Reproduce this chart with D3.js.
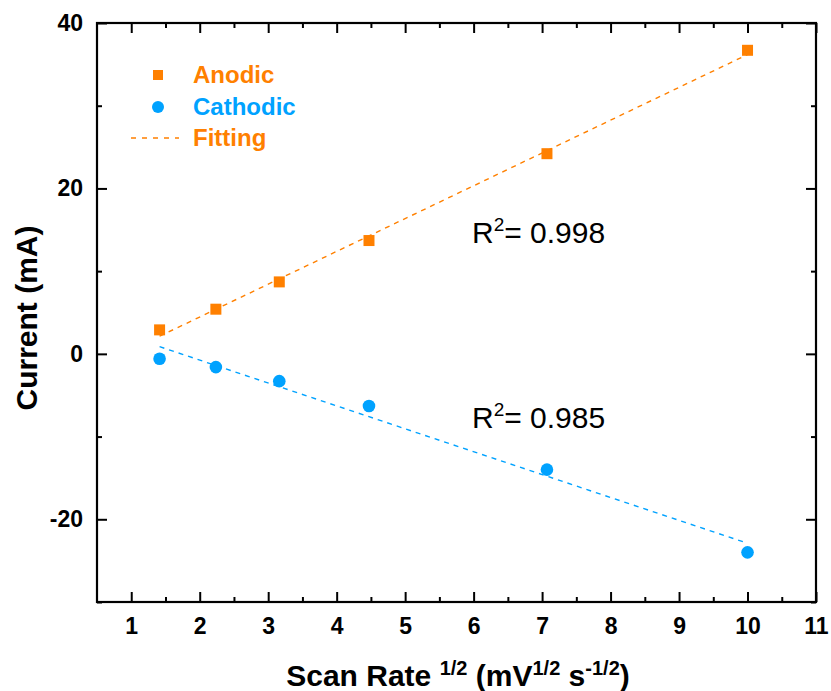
<!DOCTYPE html>
<html>
<head>
<meta charset="utf-8">
<script src="https://cdn.jsdelivr.net/npm/d3@7"></script>
<style>
  html, body { margin: 0; padding: 0; background: #fff; }
  svg { display: block; font-family: "Liberation Sans", Arial, sans-serif; }
</style>
</head>
<body>
<svg id="chart" width="831" height="691"></svg>
<script>
// Square root of scan rate (mV/s)^1/2
const scanRateSqrt = [1.414, 2.236, 3.162, 4.472, 7.071, 10.0];
// Peak currents (mA)
const anodic = [2.9, 5.4, 8.7, 13.7, 24.2, 36.7];
const cathodic = [-0.6, -1.6, -3.3, -6.3, -14.0, -24.0];
const r2Labels = ["0.998", "0.985"];
const xTicks = [1, 2, 3, 4, 5, 6, 7, 8, 9, 10, 11];
const yTicks = [-20, 0, 20, 40];

const orange = "#ff8000";
const blue = "#00a2ff";
const FONT = "Liberation Sans, Arial, sans-serif";

const svg = d3.select("#chart");
const m = { left: 97, top: 23, right: 816, bottom: 602 };

const x = d3.scaleLinear().domain([0.5, 11]).range([m.left, m.right]);
const y = d3.scaleLinear().domain([-30, 40]).range([m.bottom, m.top]);

// Least-squares line through a series
function linfit(xs, ys) {
  const n = xs.length;
  const mx = d3.mean(xs), my = d3.mean(ys);
  let sxy = 0, sxx = 0;
  for (let i = 0; i < n; i++) {
    sxy += (xs[i] - mx) * (ys[i] - my);
    sxx += (xs[i] - mx) ** 2;
  }
  const b = sxy / sxx;
  return { slope: b, intercept: my - b * mx };
}

// Frame with inward ticks on all four sides
const minorX = d3.range(1.5, 11, 1);
const minorY = d3.range(-30, 41, 10).filter(v => !yTicks.includes(v));
const major = 10, minor = 5;
const plain = d => String(d);

function frameAxis(axisGen, transform) {
  const g = svg.append("g").attr("transform", transform).call(axisGen);
  g.select(".domain").remove();
  g.selectAll("line").attr("stroke", "#000").attr("stroke-width", 2);
  return g;
}
function styleLabels(g) {
  g.selectAll("text").attr("font-size", 23).attr("font-weight", "bold")
    .attr("fill", "#000").attr("font-family", FONT);
}

// bottom
styleLabels(frameAxis(d3.axisBottom(x).tickValues(xTicks).tickSize(-major).tickPadding(16)
  .tickFormat(plain), `translate(0,${m.bottom})`));
frameAxis(d3.axisBottom(x).tickValues(minorX).tickSize(-minor).tickFormat(""), `translate(0,${m.bottom})`);
// top
frameAxis(d3.axisTop(x).tickValues(xTicks).tickSize(-major).tickFormat(""), `translate(0,${m.top})`);
frameAxis(d3.axisTop(x).tickValues(minorX).tickSize(-minor).tickFormat(""), `translate(0,${m.top})`);
// left
styleLabels(frameAxis(d3.axisLeft(y).tickValues(yTicks).tickSize(-major).tickPadding(14)
  .tickFormat(plain), `translate(${m.left},0)`));
frameAxis(d3.axisLeft(y).tickValues(minorY).tickSize(-minor).tickFormat(""), `translate(${m.left},0)`);
// right
frameAxis(d3.axisRight(y).tickValues(yTicks).tickSize(-major).tickFormat(""), `translate(${m.right},0)`);
frameAxis(d3.axisRight(y).tickValues(minorY).tickSize(-minor).tickFormat(""), `translate(${m.right},0)`);

svg.append("rect")
  .attr("x", m.left).attr("y", m.top)
  .attr("width", m.right - m.left).attr("height", m.bottom - m.top)
  .attr("fill", "none").attr("stroke", "#000").attr("stroke-width", 2.2);

// Fitted lines
const xMin = d3.min(scanRateSqrt), xMax = d3.max(scanRateSqrt);
[[anodic, orange], [cathodic, blue]].forEach(([ys, col]) => {
  const f = linfit(scanRateSqrt, ys);
  svg.append("line")
    .attr("x1", x(xMin)).attr("y1", y(f.intercept + f.slope * xMin))
    .attr("x2", x(xMax)).attr("y2", y(f.intercept + f.slope * xMax))
    .attr("stroke", col).attr("stroke-width", 1.4).attr("stroke-dasharray", "5,5");
});

// Markers
const sq = 11;
svg.append("g").selectAll("rect").data(scanRateSqrt.map((v, i) => [v, anodic[i]]))
  .join("rect")
  .attr("x", d => x(d[0]) - sq / 2).attr("y", d => y(d[1]) - sq / 2)
  .attr("width", sq).attr("height", sq).attr("fill", orange);

svg.append("g").selectAll("circle").data(scanRateSqrt.map((v, i) => [v, cathodic[i]]))
  .join("circle")
  .attr("cx", d => x(d[0])).attr("cy", d => y(d[1])).attr("r", 6.3).attr("fill", blue);

// Legend
const lg = svg.append("g").attr("font-size", 24).attr("font-weight", "bold");
lg.append("rect").attr("x", 153).attr("y", 70).attr("width", 10).attr("height", 10).attr("fill", orange);
lg.append("text").attr("x", 193).attr("y", 83).attr("fill", orange).text("Anodic");
lg.append("circle").attr("cx", 158).attr("cy", 107).attr("r", 6).attr("fill", blue);
lg.append("text").attr("x", 193).attr("y", 115).attr("fill", blue).text("Cathodic");
lg.append("line").attr("x1", 131).attr("x2", 179).attr("y1", 138).attr("y2", 138)
  .attr("stroke", orange).attr("stroke-width", 1.4).attr("stroke-dasharray", "5,6");
lg.append("text").attr("x", 193).attr("y", 146).attr("fill", orange).text("Fitting");

// R² annotations
[[r2Labels[0], 243], [r2Labels[1], 428]].forEach(([val, by]) => {
  const t = svg.append("text").attr("x", 472).attr("y", by)
    .attr("font-size", 30).attr("fill", "#000");
  t.append("tspan").text("R");
  t.append("tspan").attr("font-size", 19).attr("dy", -12).text("2");
  t.append("tspan").attr("dy", 12).text("= " + val);
});

// Axis titles
const xt = svg.append("text").attr("x", 458).attr("y", 686).attr("text-anchor", "middle")
  .attr("font-size", 30).attr("font-weight", "bold").attr("fill", "#000");
xt.append("tspan").text("Scan Rate ");
xt.append("tspan").attr("font-size", 20).attr("dy", -11).text("1/2");
xt.append("tspan").attr("dy", 11).text(" (mV");
xt.append("tspan").attr("font-size", 20).attr("dy", -11).text("1/2");
xt.append("tspan").attr("dy", 11).text(" s");
xt.append("tspan").attr("font-size", 20).attr("dy", -11).text("-1/2");
xt.append("tspan").attr("dy", 11).text(")");

svg.append("text")
  .attr("transform", "translate(37,318) rotate(-90)")
  .attr("text-anchor", "middle")
  .attr("font-size", 30).attr("font-weight", "bold").attr("fill", "#000")
  .text("Current (mA)");
</script>
</body>
</html>
